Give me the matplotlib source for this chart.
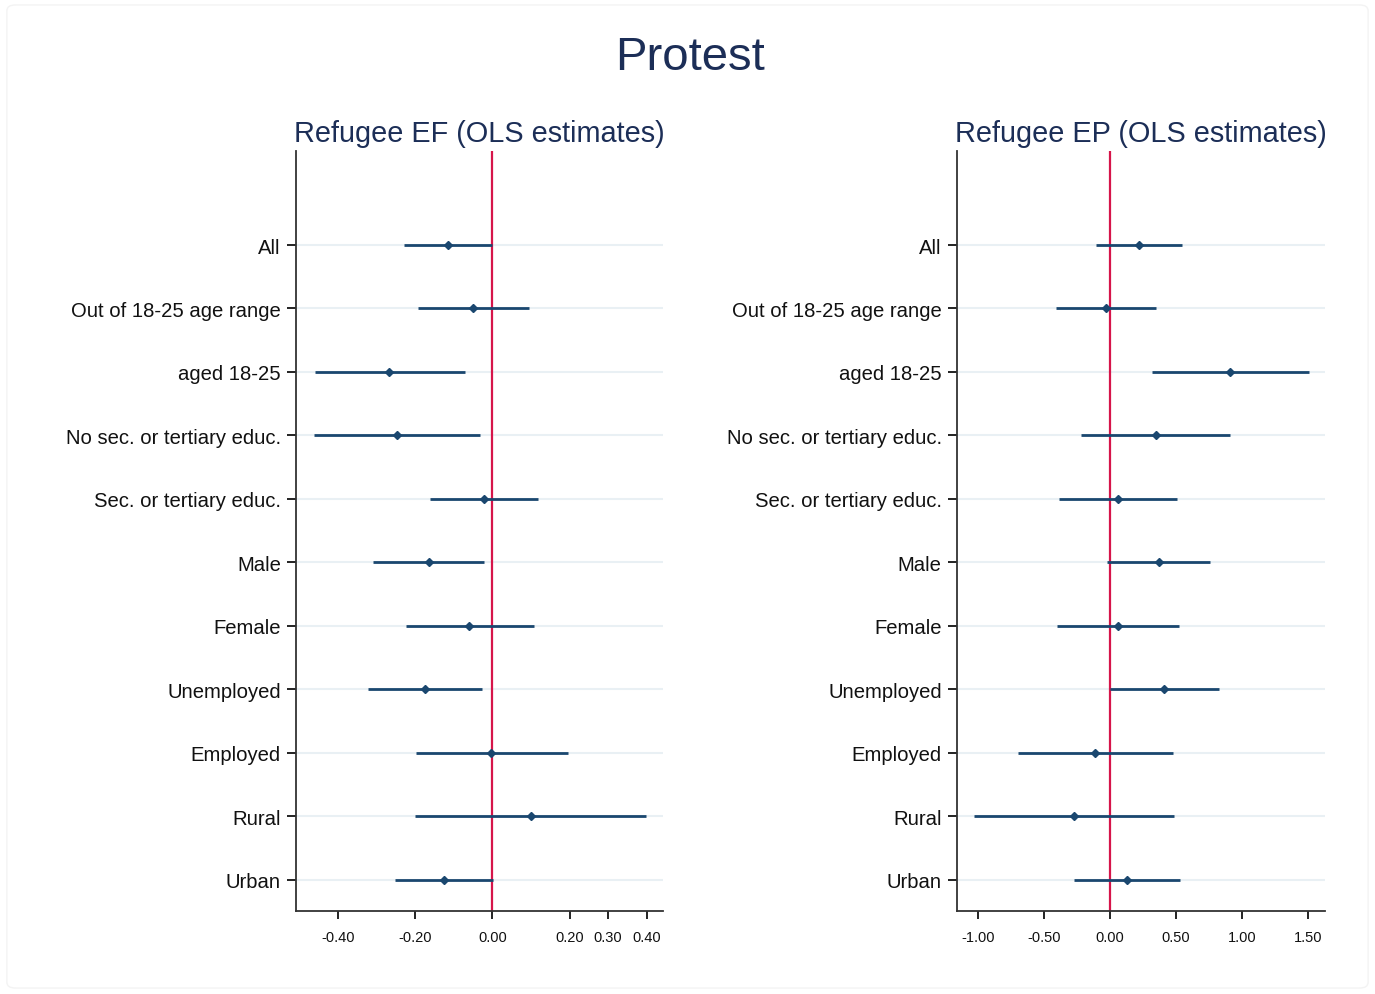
import matplotlib.pyplot as plt
from matplotlib.patches import FancyBboxPatch
import numpy as np

plt.rcParams['font.family'] = ['Liberation Sans', 'DejaVu Sans']

groups = ['All', 'Out of 18-25 age range', 'aged 18-25', 'No sec. or tertiary educ.',
          'Sec. or tertiary educ.', 'Male', 'Female', 'Unemployed', 'Employed',
          'Rural', 'Urban']

# Refugee EF (OLS): point estimates and confidence bounds
ef_est = [-0.115, -0.049, -0.267, -0.247, -0.021, -0.165, -0.059, -0.175, -0.003, 0.099, -0.126]
ef_lo = [-0.228, -0.192, -0.460, -0.462, -0.161, -0.310, -0.224, -0.323, -0.198, -0.200, -0.253]
ef_hi = [0.000, 0.095, -0.071, -0.032, 0.119, -0.021, 0.107, -0.027, 0.195, 0.399, 0.001]

# Refugee EP (OLS)
ep_est = [0.218, -0.035, 0.907, 0.344, 0.058, 0.367, 0.058, 0.410, -0.114, -0.275, 0.127]
ep_lo = [-0.111, -0.412, 0.314, -0.225, -0.387, -0.023, -0.404, 0.000, -0.697, -1.031, -0.275]
ep_hi = [0.544, 0.346, 1.504, 0.907, 0.506, 0.756, 0.523, 0.822, 0.473, 0.485, 0.528]

ef_ticks = [-0.4, -0.2, 0.0, 0.2, 0.3, 0.4]
ep_ticks = [-1.0, -0.5, 0.0, 0.5, 1.0, 1.5]

navy = '#1a476f'
red = '#d6154a'
grid_col = '#e9f0f4'
title_col = '#1c2e57'

fig = plt.figure(figsize=(13.75, 9.95), dpi=100)
fig.patches.append(FancyBboxPatch((0.005, 0.006), 0.99, 0.988,
                                  boxstyle='round,pad=0,rounding_size=0.006',
                                  transform=fig.transFigure, fill=False,
                                  edgecolor='#f3f3f3', linewidth=1.0))

fig.text(0.502, 0.942, 'Protest', ha='center', va='center',
         fontsize=34, color=title_col)


def coef_panel(ax, est, lo, hi, ticks, xlim, title):
    pos = np.arange(len(groups))
    for p in pos:
        ax.axhline(p, color=grid_col, lw=1.5, zorder=0)
    ax.axvline(0, color=red, lw=1.6, zorder=1)
    est = np.array(est)
    ax.hlines(pos, lo, hi, color=navy, lw=2, zorder=2)
    ax.plot(est, pos, 'D', color=navy, ms=4.5, zorder=3)
    ax.set_yticks(pos)
    ax.set_yticklabels(groups, fontsize=14.6)
    ax.set_ylim(len(groups) - 0.51, -1.48)
    ax.set_xticks(ticks)
    ax.set_xticklabels(['%.2f' % t for t in ticks], fontsize=10.5)
    ax.set_xlim(*xlim)
    for s in ['top', 'right']:
        ax.spines[s].set_visible(False)
    for s in ['left', 'bottom']:
        ax.spines[s].set_color('#333333')
        ax.spines[s].set_linewidth(1.3)
    ax.tick_params(axis='y', length=6.5, width=1.3, pad=4.5, colors='#111111')
    ax.tick_params(axis='x', length=6, width=1.3, pad=8, colors='#111111')
    ax.set_title(title, fontsize=20.8, color=title_col, pad=7)


ax1 = fig.add_axes([0.2153, 0.0834, 0.2669, 0.7638])
coef_panel(ax1, ef_est, ef_lo, ef_hi, ef_ticks, (-0.508, 0.442),
           'Refugee EF (OLS estimates)')

ax2 = fig.add_axes([0.696, 0.0834, 0.2676, 0.7638])
coef_panel(ax2, ep_est, ep_lo, ep_hi, ep_ticks, (-1.162, 1.628),
           'Refugee EP (OLS estimates)')

fig.savefig('out.png', dpi=100)
